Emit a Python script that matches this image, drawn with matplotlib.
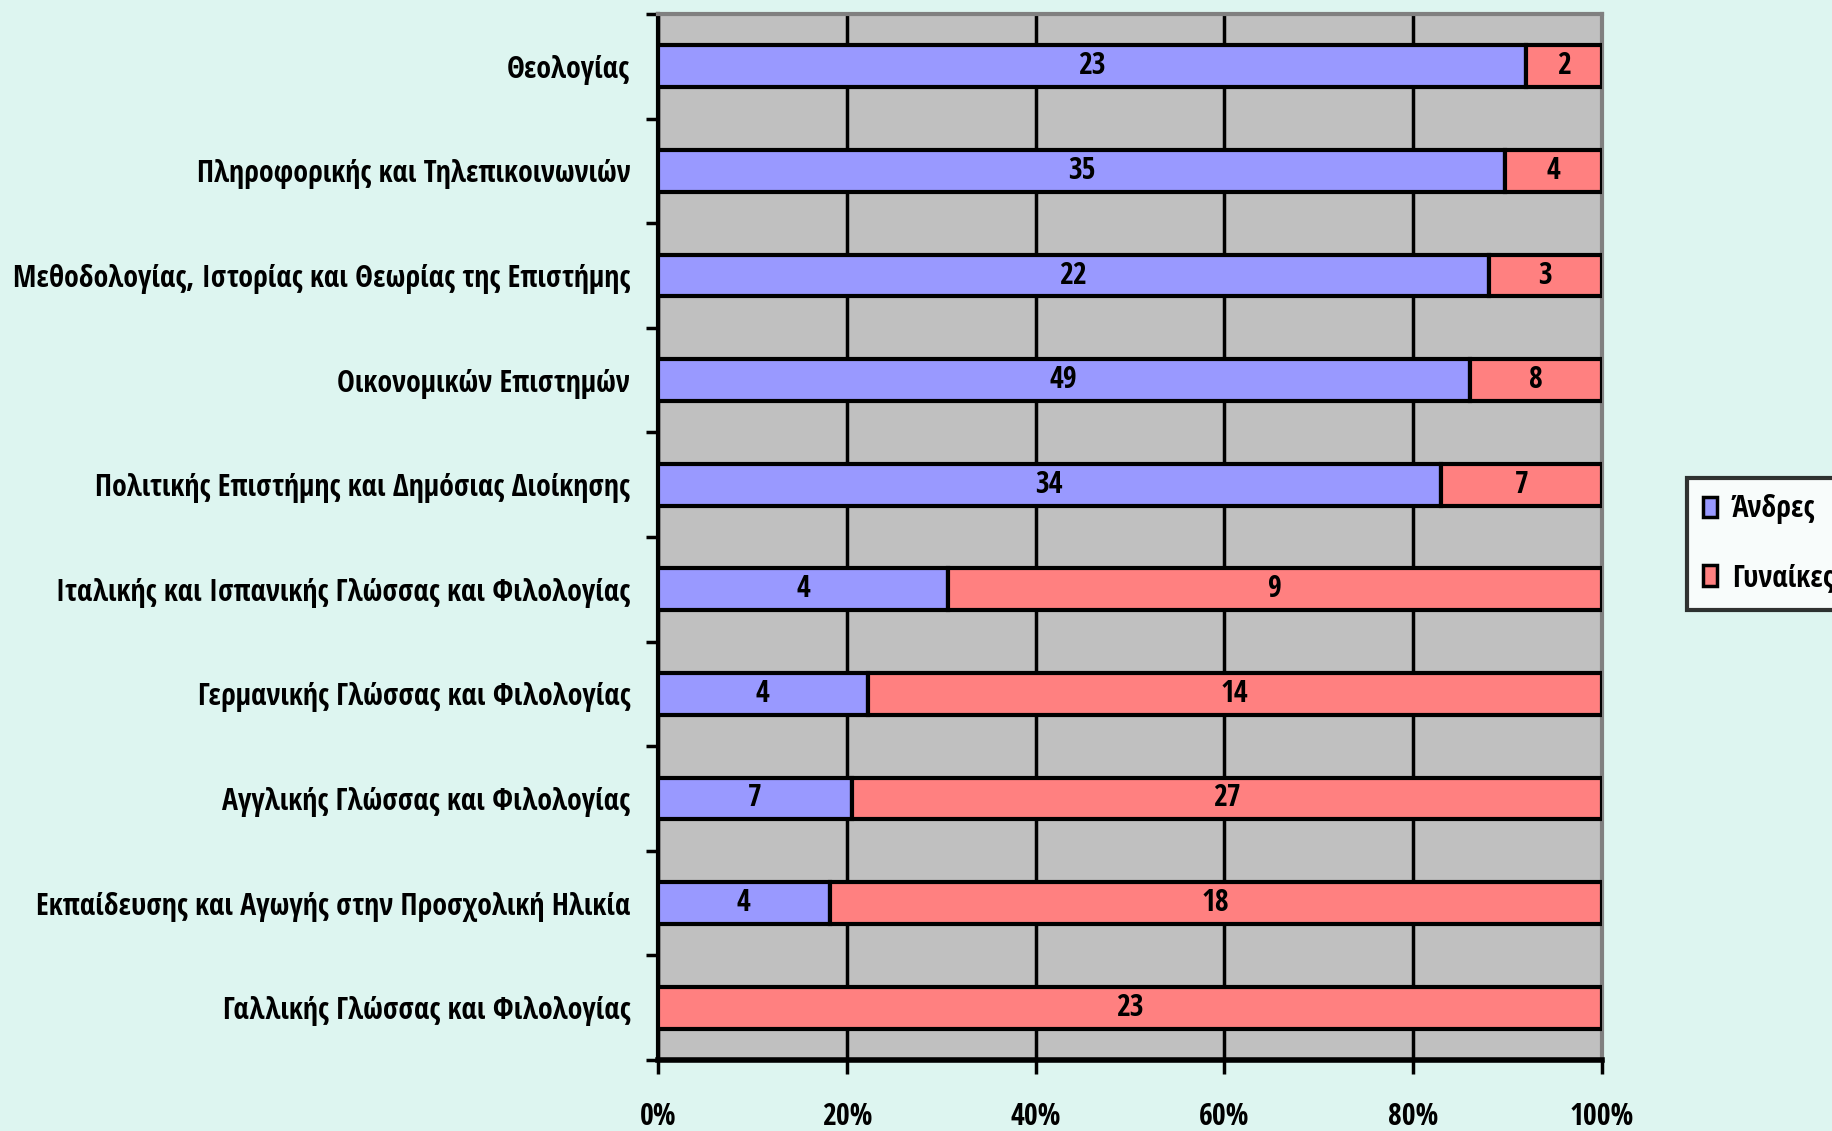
import matplotlib
matplotlib.use("Agg")
import matplotlib.pyplot as plt
import numpy as np
from matplotlib.ticker import FixedLocator, PercentFormatter
from matplotlib.patches import Patch

categories = [
    "Θεολογίας",
    "Πληροφορικής και Τηλεπικοινωνιών",
    "Μεθοδολογίας, Ιστορίας και Θεωρίας της Επιστήμης",
    "Οικονομικών Επιστημών",
    "Πολιτικής Επιστήμης και Δημόσιας Διοίκησης",
    "Ιταλικής και Ισπανικής Γλώσσας και Φιλολογίας",
    "Γερμανικής Γλώσσας και Φιλολογίας",
    "Αγγλικής Γλώσσας και Φιλολογίας",
    "Εκπαίδευσης και Αγωγής στην Προσχολική Ηλικία",
    "Γαλλικής Γλώσσας και Φιλολογίας",
]
men = [23, 35, 22, 49, 34, 4, 4, 7, 4, 0]
women = [2, 4, 3, 8, 7, 9, 14, 27, 18, 23]
series_names = ["Άνδρες", "Γυναίκες"]
xtick_values = [0, 20, 40, 60, 80, 100]

plt.rcParams['font.family'] = ['Open Sans Condensed', 'DejaVu Sans']
plt.rcParams['font.weight'] = 'bold'

BG = "#DDF5F0"
C_MEN = "#9999FF"
C_WOMEN = "#FF8080"
FS = 21.5

fig = plt.figure(figsize=(18.33, 11.31), dpi=100, facecolor=BG)
ax = fig.add_axes([658/1833, 1 - 1060/1131, (1602-658)/1833, (1060-14)/1131])
ax.set_facecolor("#C0C0C0")

n = len(categories)
y = np.arange(n)
men_a = np.array(men, float)
women_a = np.array(women, float)
tot = men_a + women_a
pm = men_a / tot * 100
pw = women_a / tot * 100

h = 0.4
ax.barh(y, pm, height=h, color=C_MEN, edgecolor="black", linewidth=3, zorder=3)
ax.barh(y, pw, left=pm, height=h, color=C_WOMEN, edgecolor="black", linewidth=3, zorder=3)

for i in range(n):
    if men[i] > 0:
        ax.text(pm[i] / 2, y[i], str(men[i]), ha="center", va="center",
                fontsize=FS, fontweight="bold", zorder=4)
    if women[i] > 0:
        ax.text(pm[i] + pw[i] / 2, y[i], str(women[i]), ha="center", va="center",
                fontsize=FS, fontweight="bold", zorder=4)

ax.set_xlim(0, 100)
ax.set_ylim(n - 0.5, -0.5)

ax.xaxis.set_major_locator(FixedLocator(xtick_values))
ax.xaxis.set_major_formatter(PercentFormatter(decimals=0))
ax.grid(axis="x", color="black", linewidth=2.5, zorder=1)
ax.tick_params(axis="x", length=10, width=2.5, pad=20, labelsize=FS)

ax.set_yticks(y)
ax.set_yticklabels(categories, fontsize=FS, fontweight="bold")
ax.set_yticks(np.arange(-0.5, n, 1.0), minor=True)
ax.tick_params(axis="y", which="major", length=0, pad=20)
ax.tick_params(axis="y", which="minor", length=9, width=2.5)

for lab in ax.get_xticklabels():
    lab.set_fontweight("bold")

ax.spines["left"].set_linewidth(3)
ax.spines["bottom"].set_linewidth(4)
ax.spines["left"].set_color("black")
ax.spines["bottom"].set_color("black")
ax.spines["top"].set_color("#808080")
ax.spines["top"].set_linewidth(3)
ax.spines["right"].set_color("#808080")
ax.spines["right"].set_linewidth(3)

handles = [Patch(facecolor=C_MEN, edgecolor="black", linewidth=2.5),
           Patch(facecolor=C_WOMEN, edgecolor="black", linewidth=2.5)]
leg = fig.legend(handles, series_names, loc="upper left",
                 bbox_to_anchor=(1687/1833, 1 - 478/1131),
                 frameon=True, fontsize=FS, handlelength=0.45, handleheight=0.7,
                 handletextpad=0.5, labelspacing=1.3, borderpad=0.55,
                 fancybox=False, borderaxespad=0)
leg.get_frame().set_edgecolor("black")
leg.get_frame().set_linewidth(3)
leg.get_frame().set_facecolor("white")

fig.savefig("out.png", dpi=100, facecolor=BG)
